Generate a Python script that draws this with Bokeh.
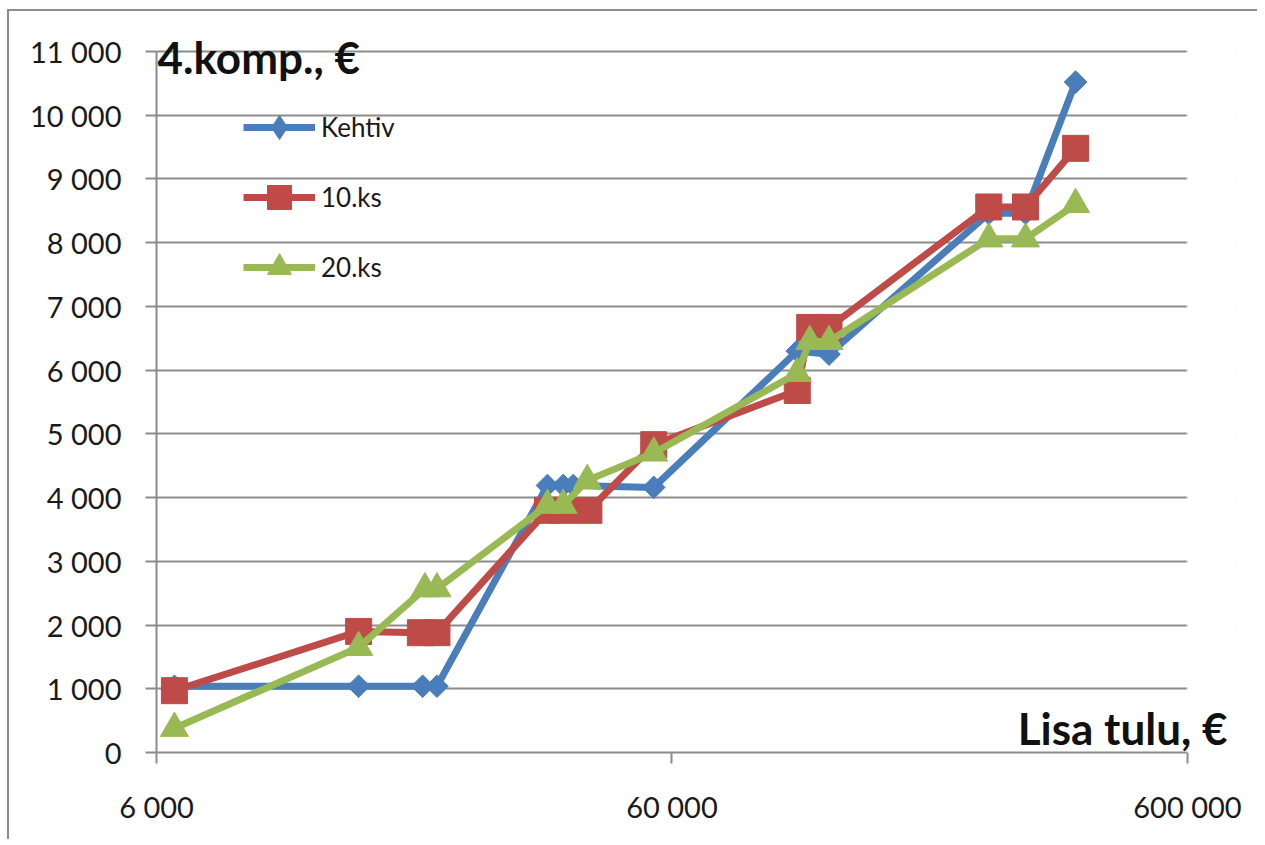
from bokeh.plotting import figure
from bokeh.models import Range1d, FixedTicker, Label, Legend, LegendItem, BoxAnnotation
from bokeh.embed import file_html
from bokeh.resources import INLINE

# ---- data ----
kehtiv_x = [6500, 14800, 19700, 21000, 34400, 36900, 38600, 55300, 105000, 121000, 247000, 291000, 364000]
kehtiv_y = [1040, 1040, 1040, 1040, 4190, 4190, 4190, 4160, 6300, 6250, 8460, 8460, 10520]

ks10_x = [6500, 14800, 19500, 21000, 34400, 36900, 41400, 55300, 105000, 111000, 121000, 247000, 291000, 364000]
ks10_y = [970, 1900, 1880, 1880, 3800, 3800, 3800, 4830, 5680, 6670, 6670, 8560, 8560, 9480]

ks20_x = [6500, 14800, 19900, 21000, 34400, 36900, 41100, 55300, 105000, 111000, 121000, 247000, 291000, 364000]
ks20_y = [380, 1650, 2570, 2570, 3880, 3880, 4270, 4700, 5950, 6450, 6450, 8060, 8060, 8600]

y_ticks = [0, 1000, 2000, 3000, 4000, 5000, 6000, 7000, 8000, 9000, 10000, 11000]
y_tick_labels = ["0", "1 000", "2 000", "3 000", "4 000", "5 000", "6 000",
                 "7 000", "8 000", "9 000", "10 000", "11 000"]
x_ticks = [6000, 60000, 600000]
x_tick_labels = ["6 000", "60 000", "600 000"]

FONT = "Lato"
GRID = "#8c8c8c"
BLUE, RED, GREEN = "#4A7EBB", "#BE4B48", "#98B954"

X_MIN, X_MAX, X_VIEW_MAX = 6000, 600000, 743600
Y_MIN, Y_MAX, Y_VIEW_MAX = 0, 11000, 11486

p = figure(width=1250, height=830, x_axis_type="log",
           x_range=Range1d(X_MIN, X_VIEW_MAX), y_range=Range1d(Y_MIN, Y_VIEW_MAX),
           output_backend="svg", toolbar_location=None,
           min_border_left=147, min_border_right=24,
           min_border_top=9, min_border_bottom=89)
p.outline_line_color = None
p.background_fill_color = "white"
p.border_fill_color = "white"

# axes
p.xaxis.ticker = FixedTicker(ticks=x_ticks, minor_ticks=[])
p.xaxis.major_label_overrides = {t: l for t, l in zip(x_ticks, x_tick_labels)}
p.xaxis.bounds = (X_MIN, X_MAX)
p.yaxis.ticker = FixedTicker(ticks=y_ticks, minor_ticks=[])
p.yaxis.major_label_overrides = {t: l for t, l in zip(y_ticks, y_tick_labels)}
p.yaxis.bounds = (Y_MIN, Y_MAX)
for ax in (p.xaxis, p.yaxis):
    ax.axis_line_color = GRID
    ax.axis_line_width = 2
    ax.major_tick_line_color = GRID
    ax.major_tick_line_width = 2
    ax.major_tick_in = 0
    ax.major_tick_out = 11
    ax.minor_tick_line_color = None
    ax.major_label_text_font = FONT
    ax.major_label_text_font_size = "29px"
    ax.major_label_text_color = "#1a1a1a"
p.xaxis.major_label_standoff = 25
p.yaxis.major_label_standoff = 24

p.xgrid.visible = False
p.ygrid.grid_line_color = GRID
p.ygrid.grid_line_width = 2
p.ygrid.ticker = FixedTicker(ticks=y_ticks)

# series
LW = 7
l1 = p.line(kehtiv_x, kehtiv_y, line_color=BLUE, line_width=LW)
p.scatter(kehtiv_x, kehtiv_y, marker="square", angle=0.785398, size=16,
          fill_color=BLUE, line_color=BLUE)
# diamond version of the same series, shown only in the legend
m1_leg = p.scatter(kehtiv_x, kehtiv_y, marker="diamond", size=24,
                   fill_color=BLUE, line_color=BLUE, visible=False)
l2 = p.line(ks10_x, ks10_y, line_color=RED, line_width=LW)
m2 = p.scatter(ks10_x, ks10_y, marker="square", size=26,
               fill_color=RED, line_color=RED)
l3 = p.line(ks20_x, ks20_y, line_color=GREEN, line_width=LW)
m3 = p.scatter(ks20_x, ks20_y, marker="triangle", size=28,
               fill_color=GREEN, line_color=GREEN)

# white mask right of the last tick so gridlines stop at 600 000
p.add_layout(BoxAnnotation(left=X_MAX, right=X_VIEW_MAX * 2, fill_color="white",
                           fill_alpha=1, line_color="white", line_width=3))

lg = Legend(items=[LegendItem(label="Kehtiv", renderers=[l1, m1_leg]),
                   LegendItem(label="10.ks", renderers=[l2, m2]),
                   LegendItem(label="20.ks", renderers=[l3, m3])])
lg.location = (87, 455)
lg.glyph_width = 72
lg.glyph_height = 60
lg.spacing = 10
lg.padding = 0
lg.margin = 0
lg.label_standoff = 6
lg.label_text_font = FONT
lg.label_text_font_size = "26px"
lg.label_text_color = "#1a1a1a"
lg.background_fill_alpha = 0
lg.border_line_color = None
p.add_layout(lg, "center")

# axis titles
p.add_layout(Label(x=6027, y=10906, text="4.komp., €", text_font=FONT,
                   text_font_style="bold", text_font_size="44px",
                   text_color="#111111", text_baseline="alphabetic"))
p.add_layout(Label(x=717600, y=392, text="Lisa tulu, €", text_font=FONT,
                   text_font_style="bold", text_font_size="44px",
                   text_color="#111111", text_align="right",
                   text_baseline="alphabetic"))

p.styles = {"margin-left": "7px", "margin-top": "9px",
            "border-left": "2px solid #8c8c8c", "border-top": "2px solid #8c8c8c"}

open("out.html", "w").write(file_html(p, INLINE))
